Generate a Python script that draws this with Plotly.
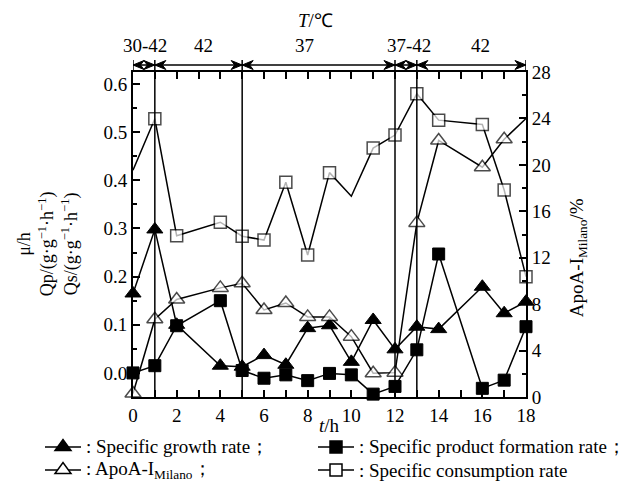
import plotly.graph_objects as go

# ---------------- data ----------------
time_h = [0, 1, 2, 4, 5, 6, 7, 8, 9, 10, 11, 12, 13, 14, 16, 17, 18]

growth_rate = [0.165, 0.298, 0.100, 0.015, 0.013, 0.037, 0.017, 0.093, 0.099,
               0.023, 0.110, 0.049, 0.096, 0.091, 0.179, 0.124, 0.148]
product_rate = [0.000, 0.015, 0.098, 0.150, 0.005, -0.011, -0.004, -0.016, -0.001,
                -0.004, -0.044, -0.028, 0.048, 0.247, -0.032, -0.015, 0.096]
apoa_milano = [0.3, 6.7, 8.4, 9.4, 9.8, 7.5, 8.1, 6.9, 6.9,
               5.2, 2.05, 2.1, 15.0, 22.1, 19.8, 22.2, 24.0]
consumption_rate = [0.421, 0.528, 0.285, 0.313, 0.284, 0.276, 0.396, 0.245, 0.416,
                    0.367, 0.467, 0.494, 0.580, 0.525, 0.516, 0.380, 0.200]

# points drawn as line vertices only (no marker in the original)
apoa_no_marker = [18]
consumption_no_marker = [0, 10]

phase_bounds = [0, 1, 5, 12, 13, 18]
phase_labels = ["30-42", "42", "37", "37-42", "42"]
phase_label_x = [0.57, 3.25, 7.85, 12.65, 15.9]

legend_labels = [": Specific growth rate；", ": Specific product formation rate；",
                 ": ApoA-I<sub>Milano</sub>；", ": Specific consumption rate"]

x_ticks = list(range(0, 19, 2))
left_ticks = [0.0, 0.1, 0.2, 0.3, 0.4, 0.5, 0.6]
right_ticks = list(range(0, 29, 4))

FONT = "Liberation Serif"
FS = 19
BLACK = "black"
ARROW_Y = 1.0215

fig = go.Figure()


def sizes(xs, hidden, s):
    return [0 if x in hidden else s for x in xs]


def lws(xs, hidden, w):
    return [0 if x in hidden else w for x in xs]


# filled triangles: growth
fig.add_trace(go.Scatter(
    x=time_h, y=growth_rate, mode="lines+markers", showlegend=False,
    line=dict(color=BLACK, width=1.5),
    marker=dict(symbol="triangle-up", size=14, color=BLACK,
                line=dict(color=BLACK, width=1)),
    yaxis="y", cliponaxis=False))
# filled squares: product
fig.add_trace(go.Scatter(
    x=time_h, y=product_rate, mode="lines+markers", showlegend=False,
    line=dict(color=BLACK, width=1.5),
    marker=dict(symbol="square", size=12, color=BLACK,
                line=dict(color=BLACK, width=1)),
    yaxis="y", cliponaxis=False))
# open squares: consumption
fig.add_trace(go.Scatter(
    x=time_h, y=consumption_rate, mode="lines+markers", showlegend=False,
    line=dict(color=BLACK, width=1.5),
    marker=dict(symbol="square", size=sizes(time_h, consumption_no_marker, 12),
                color="white",
                line=dict(color=BLACK, width=lws(time_h, consumption_no_marker, 1.5))),
    yaxis="y", cliponaxis=False))
# open triangles: ApoA-I Milano (right axis)
fig.add_trace(go.Scatter(
    x=time_h, y=apoa_milano, mode="lines+markers", showlegend=False,
    line=dict(color=BLACK, width=1.5),
    marker=dict(symbol="triangle-up", size=sizes(time_h, apoa_no_marker, 14),
                color="white",
                line=dict(color=BLACK, width=lws(time_h, apoa_no_marker, 1.5))),
    yaxis="y2", cliponaxis=False))

shapes = []
# vertical phase lines through the plot (and end ticks above the frame)
for b in phase_bounds:
    y0 = 0 if b not in (phase_bounds[0], phase_bounds[-1]) else 1
    shapes.append(dict(type="line", xref="x", yref="paper", x0=b, x1=b,
                       y0=y0, y1=1.037, line=dict(color=BLACK, width=1.5)))
# double-headed arrows between phase boundaries
for a, b in zip(phase_bounds[:-1], phase_bounds[1:]):
    shapes.append(dict(type="line", xref="x", yref="paper", x0=a, x1=b,
                       y0=ARROW_Y, y1=ARROW_Y, line=dict(color=BLACK, width=1.5)))
    shapes.append(dict(type="path", xref="x", yref="paper",
                       xsizemode="pixel", ysizemode="pixel", xanchor=b, yanchor=ARROW_Y,
                       path="M 0,0 L -11,4.5 L -7.5,0 L -11,-4.5 Z",
                       fillcolor=BLACK, line=dict(color=BLACK, width=1)))
    shapes.append(dict(type="path", xref="x", yref="paper",
                       xsizemode="pixel", ysizemode="pixel", xanchor=a, yanchor=ARROW_Y,
                       path="M 0,0 L 11,4.5 L 7.5,0 L 11,-4.5 Z",
                       fillcolor=BLACK, line=dict(color=BLACK, width=1)))

annotations = []

# ---- manual legend (two columns x two rows) ----
W_PLOT = 634 - 133 - 108
H_PLOT = 487 - 72 - 90


def px_x(p):
    return (p - 133) / W_PLOT


def px_y(p):
    return (397 - p) / H_PLOT


col_left = [45, 318]
row_y = [447, 470]
TRI = "M -8,-3.5 L 8,-3.5 L 0,7.5 Z"
SQ = "M -6,-6 L 6,-6 L 6,6 L -6,6 Z"
legend_styles = [(TRI, BLACK), (SQ, BLACK), (TRI, "white"), (SQ, "white")]
for i, (label, (sym, fill)) in enumerate(zip(legend_labels, legend_styles)):
    cx = col_left[i % 2]
    ry = px_y(row_y[i // 2])
    shapes.append(dict(type="line", xref="paper", yref="paper",
                       x0=px_x(cx), x1=px_x(cx + 36), y0=ry, y1=ry,
                       line=dict(color=BLACK, width=1.5)))
    shapes.append(dict(type="path", xref="paper", yref="paper",
                       xsizemode="pixel", ysizemode="pixel",
                       xanchor=px_x(cx + 18), yanchor=ry, path=sym,
                       fillcolor=fill, line=dict(color=BLACK, width=1.5)))
    annotations.append(dict(x=px_x(cx + 39), y=ry, xref="paper", yref="paper",
                            text=label, showarrow=False, xanchor="left", yanchor="middle",
                            font=dict(family=FONT, size=FS, color=BLACK)))

for lab, lx in zip(phase_labels, phase_label_x):
    annotations.append(dict(x=lx, y=1.083, xref="x", yref="paper", text=lab,
                            showarrow=False, font=dict(family=FONT, size=FS, color=BLACK),
                            xanchor="center", yanchor="middle"))
annotations.append(dict(x=8.35, y=1.16, xref="x", yref="paper", text="<i>T</i>/℃",
                        showarrow=False, font=dict(family=FONT, size=FS, color=BLACK),
                        xanchor="center", yanchor="middle"))
annotations.append(dict(x=0.5, y=-0.087, xref="paper", yref="paper", text="<i>t</i>/h",
                        showarrow=False, font=dict(family=FONT, size=FS, color=BLACK),
                        xanchor="center", yanchor="middle"))
annotations.append(dict(x=-0.216, y=0.47, xref="paper", yref="paper",
                        text="μ/h<br>Qp/(g·g<sup>−1</sup>·h<sup>−1</sup>)<br>Qs/(g·g<sup>−1</sup>·h<sup>−1</sup>)",
                        textangle=-90, showarrow=False,
                        font=dict(family=FONT, size=18, color=BLACK),
                        xanchor="center", yanchor="middle"))
annotations.append(dict(x=1.132, y=0.43, xref="paper", yref="paper",
                        text="ApoA-I<sub>Milano</sub>/%",
                        textangle=-90, showarrow=False,
                        font=dict(family=FONT, size=FS, color=BLACK),
                        xanchor="center", yanchor="middle"))

axis_common = dict(showline=True, linecolor=BLACK, linewidth=2, ticks="inside",
                   tickcolor=BLACK, tickwidth=1.5, ticklen=7, showgrid=False,
                   zeroline=False, tickfont=dict(family=FONT, size=FS, color=BLACK))

fig.update_layout(
    width=634, height=487,
    margin=dict(l=133, r=108, t=72, b=90, autoexpand=False),
    plot_bgcolor="white", paper_bgcolor="white",
    font=dict(family=FONT, size=FS, color=BLACK),
    showlegend=False,
    xaxis=dict(range=[0, 18], tickvals=x_ticks, mirror="allticks",
               minor=dict(dtick=1, ticks="inside", ticklen=4, tickcolor=BLACK, tickwidth=1.5),
               **axis_common),
    yaxis=dict(range=[-0.05, 0.625], tickvals=left_ticks, tickformat=".1f",
               minor=dict(dtick=0.05, tick0=0, ticks="inside", ticklen=4, tickcolor=BLACK, tickwidth=1.5),
               **axis_common),
    yaxis2=dict(range=[0, 28], tickvals=right_ticks, overlaying="y", side="right",
                minor=dict(dtick=2, ticks="inside", ticklen=4, tickcolor=BLACK, tickwidth=1.5),
                **axis_common),
    shapes=shapes, annotations=annotations,
)

fig.write_html("out.html")
